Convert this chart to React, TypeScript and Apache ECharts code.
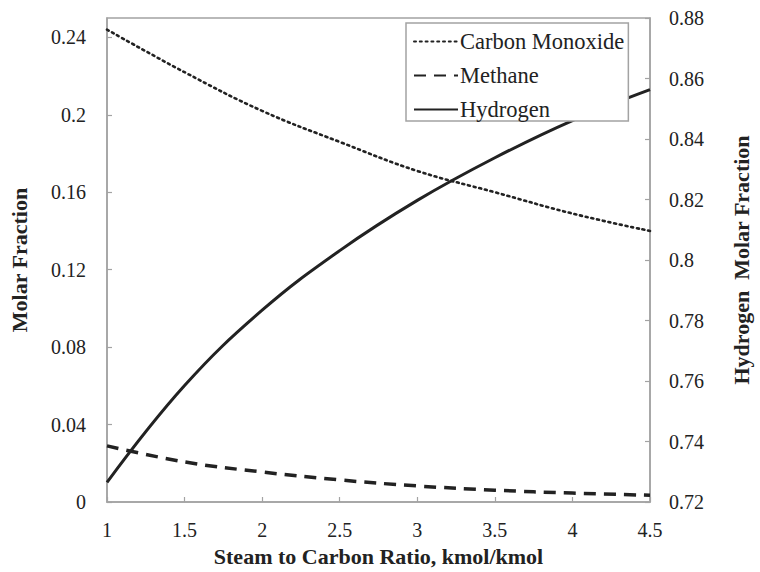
import React, { useEffect, useRef } from "react";
import * as echarts from "echarts";

const ratio = [1, 1.5, 2, 2.5, 3, 3.5, 4, 4.5];
const carbonMonoxide = [0.244, 0.222, 0.202, 0.186, 0.171, 0.16, 0.149, 0.14];
const methane = [0.029, 0.0207, 0.0155, 0.0114, 0.0083, 0.0061, 0.0046, 0.0035];
const hydrogen = [0.7265, 0.7585, 0.7834, 0.8031, 0.8197, 0.8338, 0.8461, 0.8563];

const FONT = "Liberation Serif";
const AXIS_GRAY = "#a3a3a3";
const TEXT = "#222";

export default function App() {
  const ref = useRef<HTMLDivElement>(null);
  useEffect(() => {
    if (!ref.current) return;
    const chart = echarts.init(ref.current, undefined, { renderer: "svg" });
    const pair = (ys: number[]) => ratio.map((x, i) => [x, ys[i]]);
    const axisCommon = {
      axisLine: { show: true, lineStyle: { color: AXIS_GRAY, width: 1.5 } },
      axisTick: { show: true, inside: true, length: 5, lineStyle: { color: AXIS_GRAY, width: 1.2 } },
      splitLine: { show: false },
      axisLabel: { color: TEXT, fontFamily: FONT, fontSize: 20 },
      nameTextStyle: { color: TEXT, fontFamily: FONT, fontSize: 22, fontWeight: "bold" as const },
      nameLocation: "middle" as const,
    };
    chart.setOption({
      animation: false,
      backgroundColor: "#fff",
      textStyle: { fontFamily: FONT },
      grid: {
        left: 106,
        right: 99,
        top: 18,
        bottom: 68,
        show: true,
        borderColor: AXIS_GRAY,
        borderWidth: 1.5,
        backgroundColor: "transparent",
      },
      legend: {
        orient: "vertical",
        left: 406,
        top: 23,
        width: 223,
        padding: [7, 4, 0, 7],
        itemGap: 11,
        itemWidth: 44,
        itemHeight: 20,
        borderColor: AXIS_GRAY,
        borderWidth: 1.5,
        backgroundColor: "#fff",
        itemStyle: { opacity: 0 },
        textStyle: { color: TEXT, fontFamily: FONT, fontSize: 22.5, padding: [0, 0, 0, -3] },
        data: ["Carbon Monoxide", "Methane", "Hydrogen"],
      },
      xAxis: {
        ...axisCommon,
        type: "value",
        min: 1,
        max: 4.5,
        interval: 0.5,
        name: "Steam to Carbon Ratio, kmol/kmol",
        nameGap: 43,
        axisLabel: { ...axisCommon.axisLabel, margin: 18 },
      },
      yAxis: [
        {
          ...axisCommon,
          type: "value",
          position: "left",
          min: 0,
          max: 0.25,
          interval: 0.04,
          name: "Molar Fraction",
          nameGap: 77,
          axisLabel: { ...axisCommon.axisLabel, margin: 21, showMaxLabel: false },
        },
        {
          ...axisCommon,
          type: "value",
          position: "right",
          min: 0.72,
          max: 0.88,
          interval: 0.02,
          name: "Hydrogen  Molar Fraction",
          nameGap: 80,
          axisLabel: { ...axisCommon.axisLabel, margin: 19 },
        },
      ],
      series: [
        {
          name: "Carbon Monoxide",
          type: "line",
          yAxisIndex: 0,
          smooth: 0.4,
          symbol: "none",
          data: pair(carbonMonoxide),
          lineStyle: { color: "#222", width: 2.6, type: [2, 3.8], cap: "round" },
          itemStyle: { color: "#222" },
        },
        {
          name: "Methane",
          type: "line",
          yAxisIndex: 0,
          smooth: 0.4,
          symbol: "none",
          data: pair(methane),
          lineStyle: { color: "#222", width: 3.5, type: [12, 8] },
          itemStyle: { color: "#222" },
        },
        {
          name: "Hydrogen",
          type: "line",
          yAxisIndex: 1,
          smooth: 0.4,
          symbol: "none",
          data: pair(hydrogen),
          lineStyle: { color: "#222", width: 3 },
          itemStyle: { color: "#222" },
        },
      ],
    });
    return () => chart.dispose();
  }, []);
  return <div ref={ref} style={{ width: 760, height: 572, position: "absolute", left: 0, top: 0 }} />;
}
